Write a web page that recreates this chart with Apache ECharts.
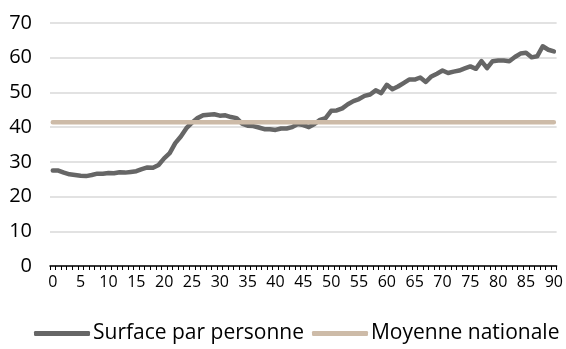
<!DOCTYPE html>
<html>
<head>
<meta charset="utf-8">
<script src="https://cdn.jsdelivr.net/npm/echarts@6/dist/echarts.min.js"></script>
<style>
  html, body { margin: 0; padding: 0; background: #fff; }
  #chart { width: 566px; height: 349px; }
</style>
</head>
<body>
<div id="chart"></div>
<script>
// Ages 0..90
const categories = [];
for (let a = 0; a <= 90; a++) categories.push(String(a));

// Surface par personne (m²) by age
const surface = [
  27.5, 27.5, 26.9, 26.4, 26.2, 26.0, 25.9, 26.2, 26.6, 26.6,
  26.8, 26.7, 27.0, 26.9, 27.1, 27.3, 27.9, 28.4, 28.3, 29.1,
  31.0, 32.5, 35.4, 37.3, 39.7, 41.3, 42.6, 43.4, 43.6, 43.7,
  43.3, 43.4, 42.9, 42.6, 41.0, 40.4, 40.3, 39.9, 39.4, 39.4,
  39.2, 39.6, 39.6, 40.0, 40.9, 40.6, 40.0, 40.9, 42.1, 42.6,
  44.7, 44.8, 45.4, 46.6, 47.5, 48.1, 49.0, 49.4, 50.6, 49.8,
  52.2, 50.9, 51.7, 52.7, 53.7, 53.7, 54.3, 53.0, 54.6, 55.4,
  56.3, 55.6, 56.0, 56.3, 56.9, 57.5, 56.8, 59.0, 57.0, 59.0,
  59.2, 59.2, 59.0, 60.2, 61.2, 61.4, 60.1, 60.4, 63.3, 62.3,
  61.8
];

// Moyenne nationale
const nationalAverage = 41.4;
const average = categories.map(() => nationalAverage);

const font = '"Open Sans", "Noto Sans", sans-serif';

const chart = echarts.init(document.getElementById('chart'), null, { renderer: 'canvas' });
chart.setOption({
  animation: false,
  backgroundColor: '#ffffff',
  textStyle: { fontFamily: font },
  grid: { left: 50, right: 8, top: 23, bottom: 83, containLabel: false },
  legend: {
    left: 29,
    top: 318,
    icon: 'roundRect',
    itemWidth: 56,
    itemHeight: 5,
    itemGap: 8,
    textStyle: { fontFamily: font, fontSize: 21, color: '#000', padding: [0, 0, 0, -2] },
    data: ['Surface par personne', 'Moyenne nationale']
  },
  xAxis: {
    type: 'category',
    data: categories,
    boundaryGap: true,
    axisLine: { lineStyle: { color: '#000', width: 1.5 } },
    axisTick: { show: true, interval: 0, length: 4, lineStyle: { color: '#000', width: 1 } },
    axisLabel: { interval: 4, fontFamily: font, fontSize: 16, color: '#000', margin: 8 },
    splitLine: { show: false }
  },
  yAxis: {
    type: 'value',
    min: 0,
    max: 70,
    interval: 10,
    axisLine: { show: false },
    axisTick: { show: false },
    axisLabel: { fontFamily: font, fontSize: 20, color: '#000', margin: 18 },
    splitLine: { lineStyle: { color: '#d9d9d9', width: 1.5 } }
  },
  series: [
    {
      name: 'Surface par personne',
      type: 'line',
      data: surface,
      symbol: 'none',
      z: 2,
      itemStyle: { color: '#666666' },
      lineStyle: { color: '#666666', width: 4.5, cap: 'round', join: 'round' }
    },
    {
      name: 'Moyenne nationale',
      type: 'line',
      data: average,
      symbol: 'none',
      z: 3,
      itemStyle: { color: '#cdbba8' },
      lineStyle: { color: '#cdbba8', width: 4.5, cap: 'round' }
    }
  ]
});
</script>
</body>
</html>
